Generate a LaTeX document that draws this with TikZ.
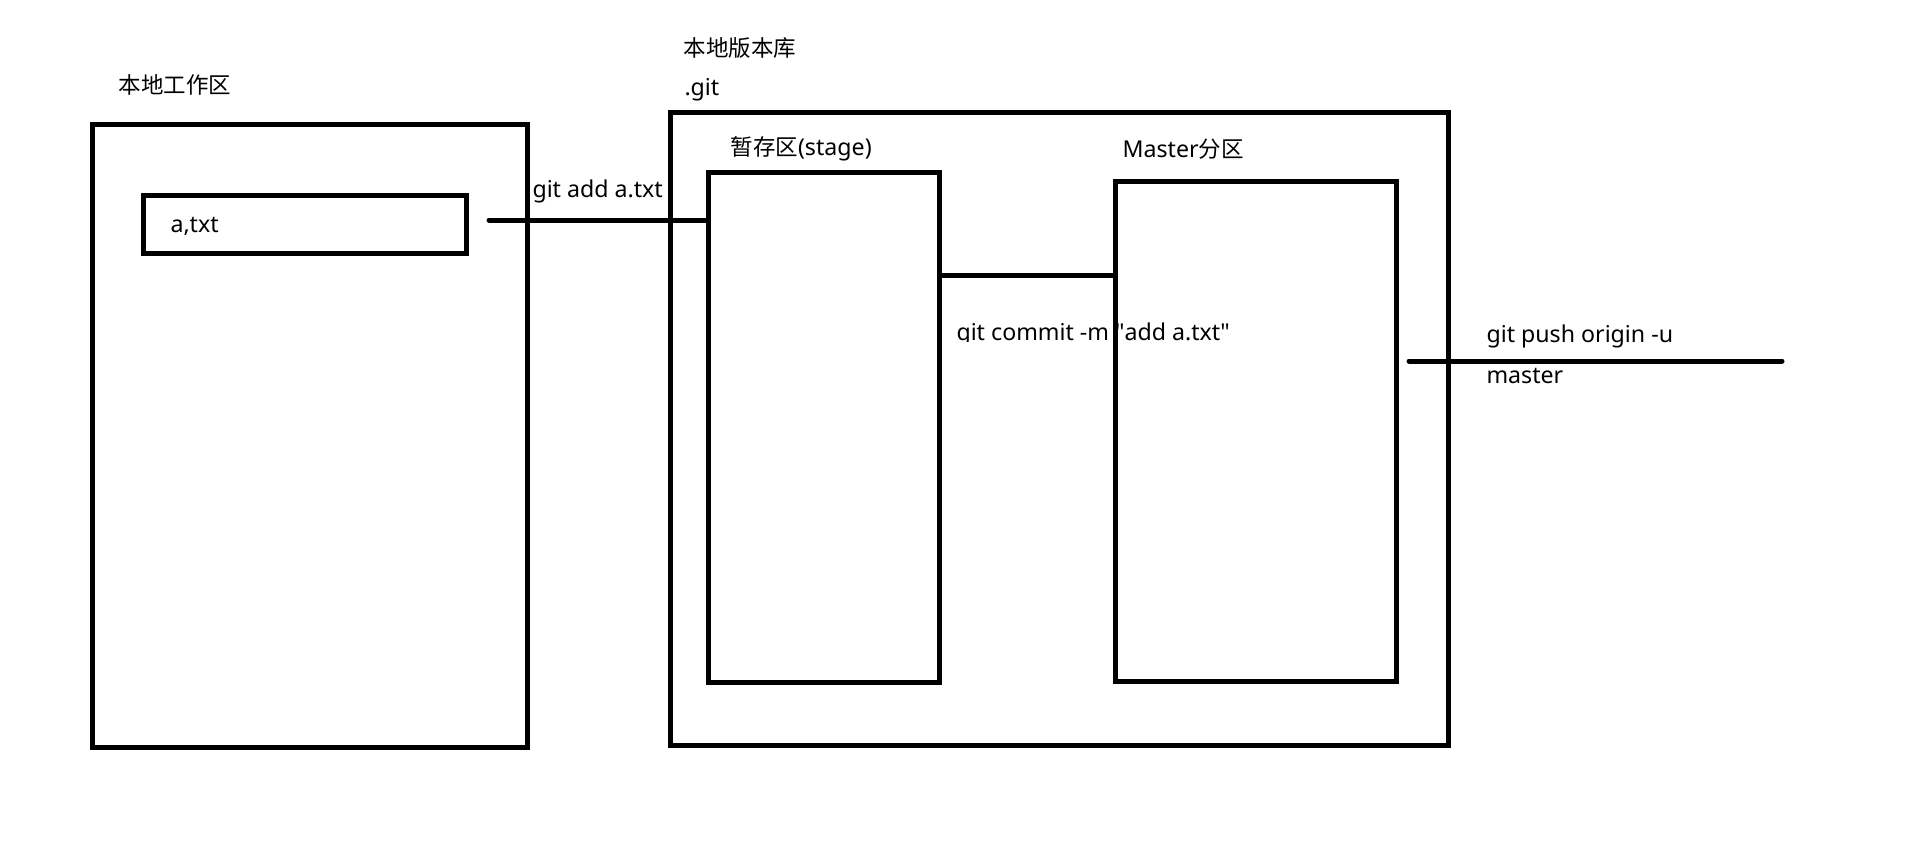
\documentclass[tikz,border=0pt]{standalone}
\usepackage{fontspec}
\setmainfont{Noto Sans}[Scale=1.03]
\newfontfamily\cjk{Noto Sans CJK SC}
\usetikzlibrary{positioning,calc}

\begin{document}
\begin{tikzpicture}[x=1pt,y=-1pt,line width=5pt,
        area/.style={draw, rectangle, anchor=north west, inner sep=0pt, outer sep=0pt},
        lbl/.style={anchor=base west, inner sep=0pt, font=\fontsize{22.5}{27}\selectfont}]

\useasboundingbox (0,0) rectangle (1914,852);

% labels
\node[lbl] (worktitle) at (116,93) {\cjk 本地工作区};
\node[lbl] (repotitle) at (681,56) {\cjk 本地版本库};
\node[lbl] (gitdir) at (682,95) {.git};
\node[lbl] (stagetitle) at (728,155) {{\cjk 暂存区}(stage)};
\node[lbl] (mastertitle) at (1120,157) {Master{\cjk 分区}};
\node[lbl] (filename) at (168,232) {a,txt};
\node[lbl] (addcmd) at (530,197) {git add a.txt};
\begin{scope}
\clip (940,290) rectangle (1300,341);
\node[lbl] (commitcmd) at (954,340) {git commit -m \textquotedbl add a.txt\textquotedbl};
\end{scope}
\node[lbl] (pushcmd) at (1484,342) {git push origin -u};
\node[lbl] (pushbranch) at (1484,383) {master};

% boxes
\node[area, minimum width=435, minimum height=623] (work) at (92,124) {};
\node[area, minimum width=323, minimum height=58] (file) at (143,195) {};
\node[area, minimum width=778, minimum height=633] (repo) at (670,112) {};
\node[area, minimum width=231, minimum height=510] (stage) at (708,172) {};
\node[area, minimum width=281, minimum height=500] (master) at (1115,181) {};

% connectors
\coordinate (addfrom) at (489,220);
\coordinate (commitrow) at (0,275);
\coordinate (pushfrom) at (1409,361);
\coordinate (pushto) at (1782,361);

\draw[line cap=round] (addfrom) -- (addfrom -| stage.west);
\draw (stage.east |- commitrow) -- (master.west |- commitrow);
\draw[line cap=round] (pushfrom) -- (pushto);

\end{tikzpicture}
\end{document}
